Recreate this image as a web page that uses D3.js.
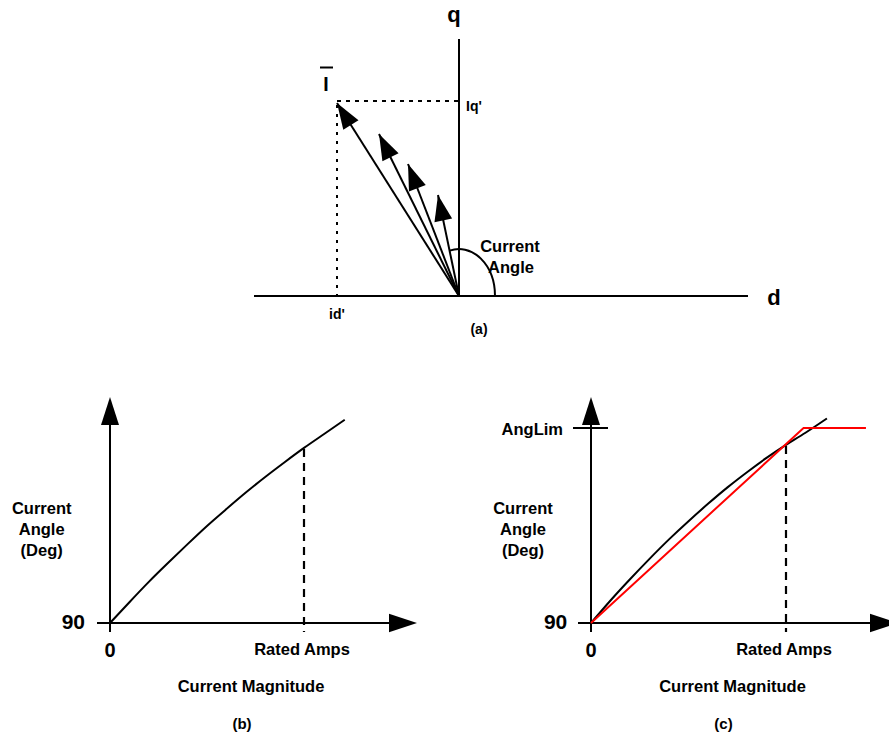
<!DOCTYPE html>
<html><head><meta charset="utf-8">
<script src="https://cdn.jsdelivr.net/npm/d3@7"></script>
<style>
body{margin:0;background:#fff}
svg{display:block}
text{font-family:"Liberation Sans",Arial,Helvetica,sans-serif;font-weight:bold;fill:#000}
</style>
</head><body>
<svg id="chart" width="889" height="738"></svg>
<script>
// ---------- data ----------
// panel (a): current phasors in the d-q plane (d, q components)
const phasorD = [-1.22, -0.80, -0.51, -0.21];
const phasorQ = [1.93, 1.62, 1.32, 1.01];
const idPrime = -1.22;
const iqPrime = 1.95;
const dAxisExtent = [-2.05, 2.89];
const qAxisExtent = [0, 2.57];

// panels (b)/(c): current angle (deg) vs current magnitude (per unit of rated amps)
const curveAmps   = [0, 0.1, 0.2, 0.3, 0.4, 0.5, 0.6, 0.7, 0.8, 0.9, 1.0, 1.1, 1.21];
const curveAngleB = [90, 94.8, 99.5, 103.9, 108.2, 112.4, 116.3, 120.1, 123.7, 127.1, 130.4, 133.5, 136.9];
const curveAngleC = [90, 95.2, 100.1, 104.8, 109.3, 113.5, 117.5, 121.3, 124.8, 128.1, 131.1, 133.9, 137.2];
// panel (c): linear approximation clamped at AngLim
const limAmps  = [0, 1.09, 1.41];
const limAngle = [90, 135, 135];
const ratedAmps = 1;
const angLim = 135;
const baseAngle = 90;
const xTickLabels = ["0", "Rated Amps"];
const yLabelLines = ["Current", "Angle", "(Deg)"];

// ---------- helpers ----------
const svg = d3.select("#chart");
function arrowHead(g, tip, from, len, half) {
  const dx = tip[0] - from[0], dy = tip[1] - from[1];
  const L = Math.hypot(dx, dy), ux = dx / L, uy = dy / L;
  const bx = tip[0] - ux * len, by = tip[1] - uy * len;
  g.append("path")
    .attr("d", `M${tip[0]},${tip[1]}L${bx - uy * half},${by + ux * half}L${bx + uy * half},${by - ux * half}Z`)
    .attr("fill", "#000");
}
function txt(x, y, s, size, anchor) {
  return svg.append("text").attr("x", x).attr("y", y)
    .attr("font-size", size).attr("text-anchor", anchor || "middle").text(s);
}

// ---------- panel (a) ----------
const xa = d3.scaleLinear().domain([0, 1]).range([459, 559]);
const ya = d3.scaleLinear().domain([0, 1]).range([296, 196]);
const ga = svg.append("g");
ga.append("line").attr("x1", xa(dAxisExtent[0])).attr("x2", xa(dAxisExtent[1]))
  .attr("y1", ya(0)).attr("y2", ya(0)).attr("stroke", "#000").attr("stroke-width", 2);
ga.append("line").attr("x1", xa(0)).attr("x2", xa(0))
  .attr("y1", ya(qAxisExtent[0])).attr("y2", ya(qAxisExtent[1])).attr("stroke", "#000").attr("stroke-width", 2);
// dotted projections
ga.append("line").attr("x1", xa(idPrime)).attr("x2", xa(0)).attr("y1", ya(iqPrime)).attr("y2", ya(iqPrime))
  .attr("stroke", "#000").attr("stroke-width", 2).attr("stroke-dasharray", "4,5");
ga.append("line").attr("x1", xa(idPrime)).attr("x2", xa(idPrime)).attr("y1", ya(iqPrime) + 4).attr("y2", ya(0))
  .attr("stroke", "#000").attr("stroke-width", 2).attr("stroke-dasharray", "3,6");
// phasors
phasorD.forEach((d, i) => {
  const o = [xa(0), ya(0)], t = [xa(d), ya(phasorQ[i])];
  ga.append("line").attr("x1", o[0]).attr("y1", o[1]).attr("x2", t[0]).attr("y2", t[1])
    .attr("stroke", "#000").attr("stroke-width", 2);
  arrowHead(ga, t, o, 26, 9);
});
// current angle arc
{
  const o = [xa(0), ya(0)];
  const d4 = phasorD[3], q4 = phasorQ[3];
  const rx = 36, ry = 47;
  const ux = (xa(d4) - o[0]), uy = (ya(q4) - o[1]);
  const L = Math.hypot(ux, uy);
  const cx = ux / L, cy = uy / L;
  const r = 1 / Math.sqrt((cx / rx) ** 2 + (cy / ry) ** 2);
  ga.append("path")
    .attr("d", `M${o[0] + cx * r},${o[1] + cy * r}A${rx},${ry} 0 0 1 ${o[0] + rx},${o[1]}`)
    .attr("fill", "none").attr("stroke", "#000").attr("stroke-width", 2);
}
txt(454, 21.5, "q", 22);
txt(774, 305, "d", 22);
txt(326, 90.5, "I", 19.5);
ga.append("line").attr("x1", 320).attr("x2", 333).attr("y1", 67.5).attr("y2", 67.5).attr("stroke", "#000").attr("stroke-width", 2);
txt(466, 110.5, "Iq'", 14, "start");
txt(337, 319, "id'", 14);
txt(510, 252.3, "Current", 16.5);
txt(511, 272.7, "Angle", 16.5);
txt(479, 334, "(a)", 14);

// ---------- panels (b) and (c) ----------
function anglePanel(x0, xRated, curveAngle, withLimit, subLabel, ylabX, nineX) {
  const x = d3.scaleLinear().domain([0, ratedAmps]).range([x0, xRated]);
  const y = d3.scaleLinear().domain([baseAngle, angLim]).range([623, 428]);
  const g = svg.append("g");
  const xEnd = withLimit ? 898 : 417;
  // axes
  g.append("line").attr("x1", x(0) - 13).attr("x2", xEnd - 20).attr("y1", y(baseAngle)).attr("y2", y(baseAngle))
    .attr("stroke", "#000").attr("stroke-width", 2);
  arrowHead(g, [xEnd, y(baseAngle)], [x(0), y(baseAngle)], 28, 9.3);
  g.append("line").attr("x1", x(0)).attr("x2", x(0)).attr("y1", y(baseAngle) + 9).attr("y2", 410)
    .attr("stroke", "#000").attr("stroke-width", 2);
  arrowHead(g, [x(0), 397], [x(0), y(baseAngle)], 28, 9);
  // rated amps dashed line
  const ratedAngle = curveAngle[curveAmps.indexOf(ratedAmps)];
  g.append("line").attr("x1", x(ratedAmps)).attr("x2", x(ratedAmps))
    .attr("y1", y(ratedAngle) + 1).attr("y2", y(baseAngle) + 9)
    .attr("stroke", "#000").attr("stroke-width", 2.2).attr("stroke-dasharray", "8,6");
  // curve
  const line = d3.line().x(d => x(d[0])).y(d => y(d[1])).curve(d3.curveNatural);
  g.append("path").attr("d", line(d3.zip(curveAmps, curveAngle)))
    .attr("fill", "none").attr("stroke", "#000").attr("stroke-width", 2);
  if (withLimit) {
    const lin = d3.line().x(d => x(d[0])).y(d => y(d[1]));
    g.append("path").attr("d", lin(d3.zip(limAmps, limAngle)))
      .attr("fill", "none").attr("stroke", "#ff0000").attr("stroke-width", 2);
    g.append("line").attr("x1", x(0) - 18).attr("x2", x(0) + 17).attr("y1", y(angLim)).attr("y2", y(angLim))
      .attr("stroke", "#000").attr("stroke-width", 2);
    txt(x(0) - 28, y(angLim) + 6.5, "AngLim", 16.5, "end");
  }
  // labels
  txt(nineX, 628.5, String(baseAngle), 21, "end");
  txt(x(0), 657, xTickLabels[0], 20);
  txt(x(ratedAmps) - 2, 655, xTickLabels[1], 16.5);
  txt((x(0) + x(ratedAmps)) / 2 + 44, 691.7, "Current Magnitude", 16.5);
  yLabelLines.forEach((s, i) => txt(ylabX, 514.3 + i * 20.8, s, 16.5));
  txt((x(0) + x(ratedAmps)) / 2 + 35, 729, subLabel, 15);
}
anglePanel(110, 304, curveAngleB, false, "(b)", 41.7, 85);
anglePanel(591, 786, curveAngleC, true, "(c)", 523, 567.3);
</script>
</body></html>
